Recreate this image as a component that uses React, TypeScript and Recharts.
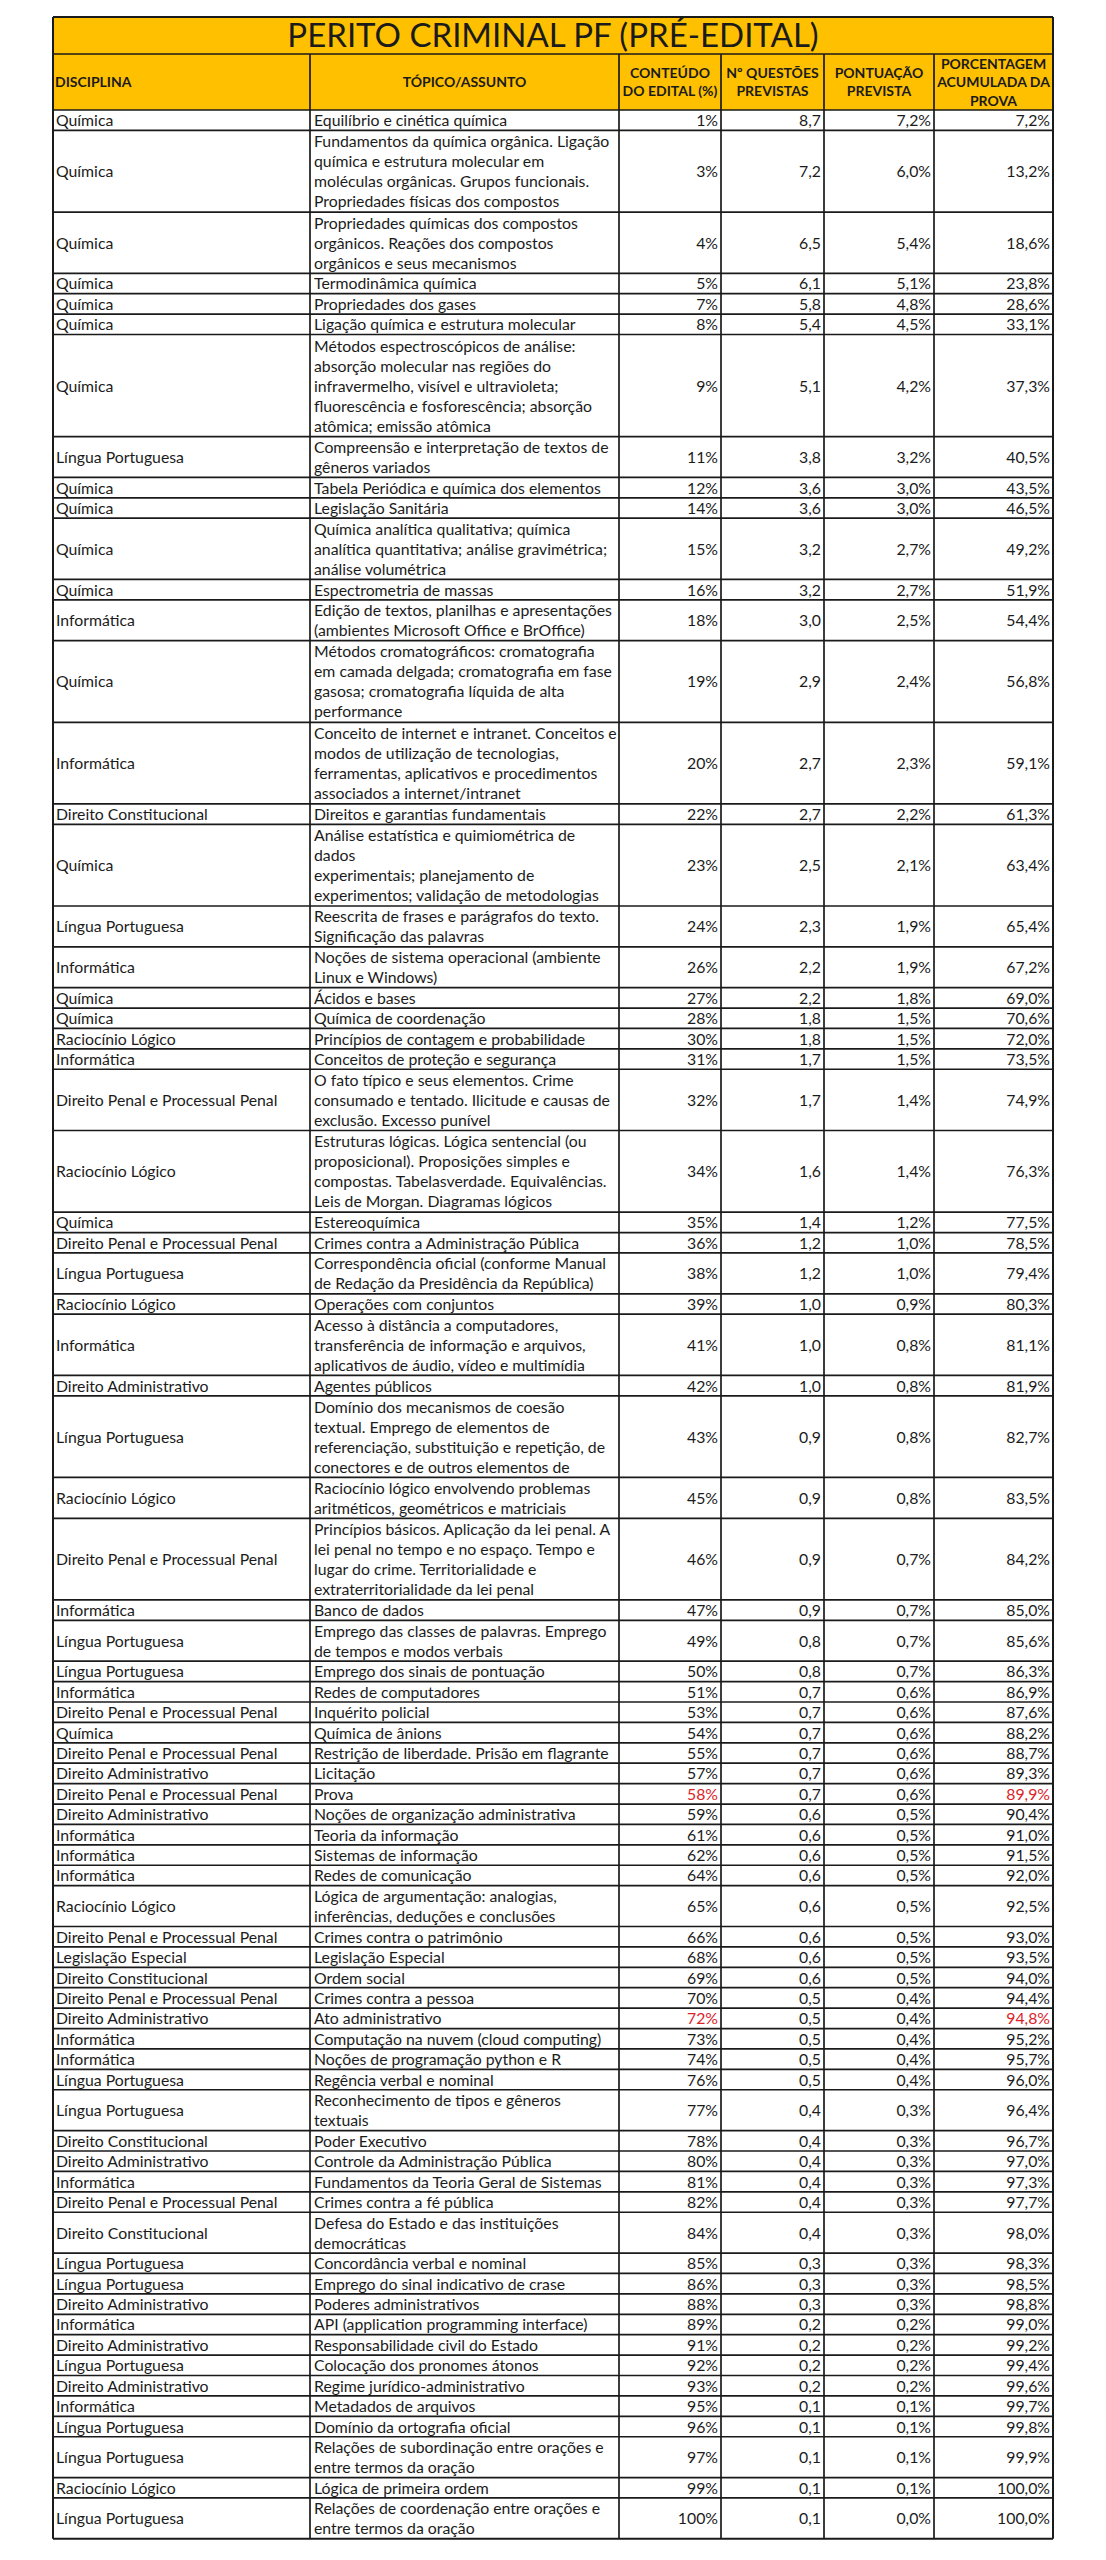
import React from "react";
import { ComposedChart, XAxis, YAxis, ReferenceArea, ReferenceLine, Scatter } from "recharts";

// ---------- DATA ----------
const Q = "Química";
const LP = "Língua Portuguesa";
const INF = "Informática";
const DC = "Direito Constitucional";
const DPP = "Direito Penal e Processual Penal";
const RL = "Raciocínio Lógico";
const DA = "Direito Administrativo";
const LE = "Legislação Especial";

const title = "PERITO CRIMINAL PF (PRÉ-EDITAL)";
const headers = [
  "DISCIPLINA",
  "TÓPICO/ASSUNTO",
  "CONTEÚDO\nDO EDITAL (%)",
  "Nº QUESTÕES\nPREVISTAS",
  "PONTUAÇÃO\nPREVISTA",
  "PORCENTAGEM\nACUMULADA DA\nPROVA",
];

const disciplinas = [
  Q, Q, Q, Q, Q, Q, Q, LP, Q, Q,
  Q, Q, INF, Q, INF, DC, Q, LP, INF, Q,
  Q, RL, INF, DPP, RL, Q, DPP, LP, RL, INF,
  DA, LP, RL, DPP, INF, LP, LP, INF, DPP, Q,
  DPP, DA, DPP, DA, INF, INF, INF, RL, DPP, LE,
  DC, DPP, DA, INF, INF, LP, LP, DC, DA, INF,
  DPP, DC, LP, LP, DA, INF, DA, LP, DA, INF,
  LP, LP, RL, LP,
];

const topicos = [
  "Equilíbrio e cinética química",
  "Fundamentos da química orgânica. Ligação\nquímica e estrutura molecular em\nmoléculas orgânicas. Grupos funcionais.\nPropriedades físicas dos compostos",
  "Propriedades químicas dos compostos\norgânicos. Reações dos compostos\norgânicos e seus mecanismos",
  "Termodinâmica química",
  "Propriedades dos gases",
  "Ligação química e estrutura molecular",
  "Métodos espectroscópicos de análise:\nabsorção molecular nas regiões do\ninfravermelho, visível e ultravioleta;\nfluorescência e fosforescência; absorção\natômica; emissão atômica",
  "Compreensão e interpretação de textos de\ngêneros variados",
  "Tabela Periódica e química dos elementos",
  "Legislação Sanitária",
  "Química analítica qualitativa; química\nanalítica quantitativa; análise gravimétrica;\nanálise volumétrica",
  "Espectrometria de massas",
  "Edição de textos, planilhas e apresentações\n(ambientes Microsoft Office e BrOffice)",
  "Métodos cromatográficos: cromatografia\nem camada delgada; cromatografia em fase\ngasosa; cromatografia líquida de alta\nperformance",
  "Conceito de internet e intranet. Conceitos e\nmodos de utilização de tecnologias,\nferramentas, aplicativos e procedimentos\nassociados a internet/intranet",
  "Direitos e garantias fundamentais",
  "Análise estatística e quimiométrica de\ndados\nexperimentais; planejamento de\nexperimentos; validação de metodologias",
  "Reescrita de frases e parágrafos do texto.\nSignificação das palavras",
  "Noções de sistema operacional (ambiente\nLinux e Windows)",
  "Ácidos e bases",
  "Química de coordenação",
  "Princípios de contagem e probabilidade",
  "Conceitos de proteção e segurança",
  "O fato típico e seus elementos. Crime\nconsumado e tentado. Ilicitude e causas de\nexclusão. Excesso punível",
  "Estruturas lógicas. Lógica sentencial (ou\nproposicional). Proposições simples e\ncompostas. Tabelasverdade. Equivalências.\nLeis de Morgan. Diagramas lógicos",
  "Estereoquímica",
  "Crimes contra a Administração Pública",
  "Correspondência oficial (conforme Manual\nde Redação da Presidência da República)",
  "Operações com conjuntos",
  "Acesso à distância a computadores,\ntransferência de informação e arquivos,\naplicativos de áudio, vídeo e multimídia",
  "Agentes públicos",
  "Domínio dos mecanismos de coesão\ntextual. Emprego de elementos de\nreferenciação, substituição e repetição, de\nconectores e de outros elementos de",
  "Raciocínio lógico envolvendo problemas\naritméticos, geométricos e matriciais",
  "Princípios básicos. Aplicação da lei penal. A\nlei penal no tempo e no espaço. Tempo e\nlugar do crime. Territorialidade e\nextraterritorialidade da lei penal",
  "Banco de dados",
  "Emprego das classes de palavras. Emprego\nde tempos e modos verbais",
  "Emprego dos sinais de pontuação",
  "Redes de computadores",
  "Inquérito policial",
  "Química de ânions",
  "Restrição de liberdade. Prisão em flagrante",
  "Licitação",
  "Prova",
  "Noções de organização administrativa",
  "Teoria da informação",
  "Sistemas de informação",
  "Redes de comunicação",
  "Lógica de argumentação: analogias,\ninferências, deduções e conclusões",
  "Crimes contra o patrimônio",
  "Legislação Especial",
  "Ordem social",
  "Crimes contra a pessoa",
  "Ato administrativo",
  "Computação na nuvem (cloud computing)",
  "Noções de programação python e R",
  "Regência verbal e nominal",
  "Reconhecimento de tipos e gêneros\ntextuais",
  "Poder Executivo",
  "Controle da Administração Pública",
  "Fundamentos da Teoria Geral de Sistemas",
  "Crimes contra a fé pública",
  "Defesa do Estado e das instituições\ndemocráticas",
  "Concordância verbal e nominal",
  "Emprego do sinal indicativo de crase",
  "Poderes administrativos",
  "API (application programming interface)",
  "Responsabilidade civil do Estado",
  "Colocação dos pronomes átonos",
  "Regime jurídico-administrativo",
  "Metadados de arquivos",
  "Domínio da ortografia oficial",
  "Relações de subordinação entre orações e\nentre termos da oração",
  "Lógica de primeira ordem",
  "Relações de coordenação entre orações e\nentre termos da oração",
];

const conteudo = [
  1, 3, 4, 5, 7, 8, 9, 11, 12, 14,
  15, 16, 18, 19, 20, 22, 23, 24, 26, 27,
  28, 30, 31, 32, 34, 35, 36, 38, 39, 41,
  42, 43, 45, 46, 47, 49, 50, 51, 53, 54,
  55, 57, 58, 59, 61, 62, 64, 65, 66, 68,
  69, 70, 72, 73, 74, 76, 77, 78, 80, 81,
  82, 84, 85, 86, 88, 89, 91, 92, 93, 95,
  96, 97, 99, 100,
];

const questoes = [
  8.7, 7.2, 6.5, 6.1, 5.8, 5.4, 5.1, 3.8, 3.6, 3.6,
  3.2, 3.2, 3.0, 2.9, 2.7, 2.7, 2.5, 2.3, 2.2, 2.2,
  1.8, 1.8, 1.7, 1.7, 1.6, 1.4, 1.2, 1.2, 1.0, 1.0,
  1.0, 0.9, 0.9, 0.9, 0.9, 0.8, 0.8, 0.7, 0.7, 0.7,
  0.7, 0.7, 0.7, 0.6, 0.6, 0.6, 0.6, 0.6, 0.6, 0.6,
  0.6, 0.5, 0.5, 0.5, 0.5, 0.5, 0.4, 0.4, 0.4, 0.4,
  0.4, 0.4, 0.3, 0.3, 0.3, 0.2, 0.2, 0.2, 0.2, 0.1,
  0.1, 0.1, 0.1, 0.1,
];

const pontuacao = [
  7.2, 6.0, 5.4, 5.1, 4.8, 4.5, 4.2, 3.2, 3.0, 3.0,
  2.7, 2.7, 2.5, 2.4, 2.3, 2.2, 2.1, 1.9, 1.9, 1.8,
  1.5, 1.5, 1.5, 1.4, 1.4, 1.2, 1.0, 1.0, 0.9, 0.8,
  0.8, 0.8, 0.8, 0.7, 0.7, 0.7, 0.7, 0.6, 0.6, 0.6,
  0.6, 0.6, 0.6, 0.5, 0.5, 0.5, 0.5, 0.5, 0.5, 0.5,
  0.5, 0.4, 0.4, 0.4, 0.4, 0.4, 0.3, 0.3, 0.3, 0.3,
  0.3, 0.3, 0.3, 0.3, 0.3, 0.2, 0.2, 0.2, 0.2, 0.1,
  0.1, 0.1, 0.1, 0.0,
];

const acumulada = [
  7.2, 13.2, 18.6, 23.8, 28.6, 33.1, 37.3, 40.5, 43.5, 46.5,
  49.2, 51.9, 54.4, 56.8, 59.1, 61.3, 63.4, 65.4, 67.2, 69.0,
  70.6, 72.0, 73.5, 74.9, 76.3, 77.5, 78.5, 79.4, 80.3, 81.1,
  81.9, 82.7, 83.5, 84.2, 85.0, 85.6, 86.3, 86.9, 87.6, 88.2,
  88.7, 89.3, 89.9, 90.4, 91.0, 91.5, 92.0, 92.5, 93.0, 93.5,
  94.0, 94.4, 94.8, 95.2, 95.7, 96.0, 96.4, 96.7, 97.0, 97.3,
  97.7, 98.0, 98.3, 98.5, 98.8, 99.0, 99.2, 99.4, 99.6, 99.7,
  99.8, 99.9, 100.0, 100.0,
];

// rows whose "conteúdo" and "acumulada" values are highlighted in red
const destaques = ["Prova", "Ato administrativo"];

// ---------- LAYOUT ----------
const W = 1106;
const H = 2560;
const COL_EDGES = [53, 310, 619, 721, 824, 934, 1053];
const TITLE_TOP = 17;
const HEAD_TOP = 54;
const BODY_TOP = 110;
const LINE_H = 20.41;
const FONT = "Lato, Carlito, Calibri, 'Noto Sans', sans-serif";
const YELLOW = "#FFC000";
const INK = "#1b1b1b";
const RED = "#dc2329";
const GRID = "#1a1a1a";

const fmt1 = (v: number) => v.toFixed(1).replace(".", ",");

const rowLines = topicos.map((t) => t.split("\n").length);
const rowTops: number[] = [];
let accY = BODY_TOP;
rowLines.forEach((n) => {
  rowTops.push(accY);
  accY += n * LINE_H;
});
const BODY_BOTTOM = accY;

type Cell = {
  x: number;
  y: number;
  lines: string[];
  anchor: "start" | "middle" | "end";
  size: number;
  weight: number;
  spacing: number;
  shift: number;
  color: string;
};

const cells: Cell[] = [];

// title
cells.push({
  x: (COL_EDGES[0] + COL_EDGES[6]) / 2,
  y: (TITLE_TOP + HEAD_TOP) / 2,
  lines: [title],
  anchor: "middle",
  size: 33,
  weight: 400,
  spacing: 34,
  shift: 11.5,
  color: INK,
});

// header labels
headers.forEach((h, i) => {
  const left = i === 0;
  cells.push({
    x: left ? COL_EDGES[0] + 2 : (COL_EDGES[i] + COL_EDGES[i + 1]) / 2,
    y: (HEAD_TOP + BODY_TOP) / 2,
    lines: h.split("\n"),
    anchor: left ? "start" : "middle",
    size: 14,
    weight: 700,
    spacing: 18.5,
    shift: 5,
    color: INK,
  });
});

// body
topicos.forEach((t, r) => {
  const cy = rowTops[r] + (rowLines[r] * LINE_H) / 2;
  const red = destaques.includes(t);
  const base = { y: cy, size: 15.8, weight: 400, spacing: 20, shift: 6, color: INK };
  cells.push({ ...base, x: COL_EDGES[0] + 3, lines: [disciplinas[r]], anchor: "start" });
  cells.push({ ...base, x: COL_EDGES[1] + 4, lines: t.split("\n"), anchor: "start" });
  cells.push({ ...base, x: COL_EDGES[3] - 3, lines: [`${conteudo[r]}%`], anchor: "end", color: red ? RED : INK });
  cells.push({ ...base, x: COL_EDGES[4] - 3, lines: [fmt1(questoes[r])], anchor: "end" });
  cells.push({ ...base, x: COL_EDGES[5] - 3, lines: [`${fmt1(pontuacao[r])}%`], anchor: "end" });
  cells.push({ ...base, x: COL_EDGES[6] - 3, lines: [`${fmt1(acumulada[r])}%`], anchor: "end", color: red ? RED : INK });
});

const CellText = (props: any) => {
  const { cx, cy, payload } = props;
  if (cx == null || cy == null || !payload) return <g />;
  const c: Cell = payload;
  const n = c.lines.length;
  const first = cy - ((n - 1) * c.spacing) / 2 + c.shift;
  return (
    <text
      x={cx}
      y={first}
      textAnchor={c.anchor}
      fontFamily={FONT}
      fontSize={c.size}
      fontWeight={c.weight}
      fill={c.color}
    >
      {c.lines.map((l, i) => (
        <tspan key={i} x={cx} y={first + i * c.spacing}>
          {l}
        </tspan>
      ))}
    </text>
  );
};

// grid segments
const hLines: { y: number; x1: number; x2: number; w: number }[] = [
  { y: TITLE_TOP, x1: COL_EDGES[0], x2: COL_EDGES[6], w: 2 },
  { y: HEAD_TOP, x1: COL_EDGES[0], x2: COL_EDGES[6], w: 1.7 },
  { y: BODY_TOP, x1: COL_EDGES[0], x2: COL_EDGES[6], w: 1.7 },
  ...rowTops.slice(1).map((y) => ({ y, x1: COL_EDGES[0], x2: COL_EDGES[6], w: 1.7 })),
  { y: BODY_BOTTOM, x1: COL_EDGES[0], x2: COL_EDGES[6], w: 2 },
];
const vLines = COL_EDGES.map((x, i) => ({
  x,
  y1: i === 0 || i === COL_EDGES.length - 1 ? TITLE_TOP : HEAD_TOP,
  y2: BODY_BOTTOM,
  w: i === 0 || i === COL_EDGES.length - 1 ? 2 : 1.7,
}));

export default function App() {
  return (
    <div style={{ position: "absolute", left: 0, top: 0, width: W, height: H, background: "#fff" }}>
      <ComposedChart width={W} height={H} margin={{ top: 0, right: 0, bottom: 0, left: 0 }}>
        <XAxis type="number" dataKey="x" domain={[0, W]} allowDataOverflow hide />
        <YAxis type="number" dataKey="y" domain={[0, H]} allowDataOverflow reversed hide />
        <ReferenceArea
          x1={COL_EDGES[0]}
          x2={COL_EDGES[6]}
          y1={TITLE_TOP}
          y2={BODY_TOP}
          fill={YELLOW}
          fillOpacity={1}
          stroke="none"
          ifOverflow="visible"
        />
        {hLines.map((l, i) => (
          <ReferenceLine
            key={`h${i}`}
            segment={[{ x: l.x1, y: l.y }, { x: l.x2, y: l.y }]}
            stroke={GRID}
            strokeWidth={l.w}
            ifOverflow="visible"
          />
        ))}
        {vLines.map((l, i) => (
          <ReferenceLine
            key={`v${i}`}
            segment={[{ x: l.x, y: l.y1 }, { x: l.x, y: l.y2 }]}
            stroke={GRID}
            strokeWidth={l.w}
            ifOverflow="visible"
          />
        ))}
        <Scatter
          data={cells}
          dataKey="y"
          isAnimationActive={false}
          shape={<CellText />}
          legendType="none"
        />
      </ComposedChart>
    </div>
  );
}
